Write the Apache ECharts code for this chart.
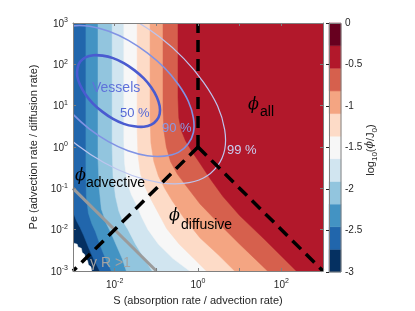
<!DOCTYPE html>
<html><head><meta charset="utf-8">
<script src="https://cdn.jsdelivr.net/npm/echarts/dist/echarts.min.js"></script>
<style>html,body{margin:0;padding:0;background:#fff}#c{width:415px;height:311px}</style>
</head><body><div id="c"></div>
<script>
// ---- data (log10 S, log10 Pe) ----
const xTicks = [-3, -2, -1, 0, 1, 2, 3];
const xLabelTicks = [-2, 0, 2];
const yTicks = [-3, -2, -1, 0, 1, 2, 3];
const cbTicks = [0, -0.5, -1, -1.5, -2, -2.5, -3];
const cbEdges = [-3, -2.727, -2.455, -2.182, -1.909, -1.636, -1.364, -1.091, -0.818, -0.545, -0.273, 0];
const cbColors = ['#053061', '#2166ac', '#4393c3', '#92c5de', '#d1e5f0', '#f7f7f7', '#fddbc7', '#f4a582', '#d6604d', '#b2182b', '#67001f'];

// contour boundaries of log10(phi/J0): region to the right/above has the next colour
const edge1 = [[-3, -1.57], [-2.92, -1.78], [-2.83, -1.95], [-2.74, -2.15], [-2.62, -2.45], [-2.5, -2.72], [-2.36, -3]];
const edge2 = [[-2.69, 3], [-2.69, -0.5], [-2.68, -1.2], [-2.63, -1.6], [-2.55, -1.85], [-2.46, -2.05], [-2.32, -2.45], [-2.2, -2.75], [-2.08, -3]];
const edge3 = [[-2.4, 3], [-2.4, -0.3], [-2.37, -1.0], [-2.32, -1.5], [-2.2, -1.85], [-2.1, -2.05], [-1.95, -2.4], [-1.82, -2.7], [-1.72, -3]];
const edge4 = [[-2.06, 3], [-2.06, 0.0], [-2.04, -0.7], [-1.98, -1.2], [-1.9, -1.55], [-1.8, -1.8], [-1.68, -2.0], [-1.5, -2.35], [-1.3, -2.68], [-1.1, -3]];
const edge5 = [[-1.78, 3], [-1.78, 0.2], [-1.76, -0.4], [-1.7, -0.85], [-1.6, -1.15], [-1.5, -1.35], [-1.35, -1.7], [-1.2, -2.0], [-0.95, -2.35], [-0.6, -2.7], [-0.2, -3]];
const edge6 = [[-1.46, 3], [-1.46, 0.4], [-1.44, -0.2], [-1.38, -0.65], [-1.28, -0.95], [-1.12, -1.28], [-0.95, -1.6], [-0.75, -1.98], [-0.45, -2.35], [-0.1, -2.7], [0.2, -3]];
const edge7 = [[-1.15, 3], [-1.15, 0.7], [-1.13, 0.1], [-1.06, -0.35], [-0.95, -0.7], [-0.8, -1.0], [-0.62, -1.3], [-0.35, -1.7], [0.05, -2.2], [0.5, -2.62], [0.88, -3]];
const edge8 = [[-0.84, 3], [-0.84, 0.9], [-0.82, 0.4], [-0.76, 0.0], [-0.66, -0.35], [-0.5, -0.65], [-0.3, -0.92], [0.05, -1.38], [0.5, -1.85], [1.0, -2.35], [1.67, -3]];
const edge9 = [[-0.48, 3], [-0.48, 1.2], [-0.46, 0.7], [-0.4, 0.4], [-0.3, 0.15], [-0.15, -0.1], [0.05, -0.4], [0.3, -0.78], [0.6, -1.2], [1.0, -1.66], [1.6, -2.24], [2.36, -3]];
const blankPatch = [[-3, -2.32], [-2.9, -2.35], [-2.88, -2.42], [-2.8, -2.45], [-2.78, -2.55], [-2.72, -2.6], [-2.7, -2.7], [-2.65, -2.75], [-2.63, -2.85], [-2.57, -2.9], [-2.55, -3]];

// vessel distribution contours
const vessel50 = [[-0.99, 0.65], [-1.12, 0.54], [-1.30, 0.49], [-1.53, 0.50], [-1.78, 0.56], [-2.04, 0.68], [-2.29, 0.85], [-2.52, 1.05], [-2.70, 1.27], [-2.83, 1.50], [-2.90, 1.72], [-2.89, 1.91], [-2.83, 2.06], [-2.70, 2.17], [-2.51, 2.22], [-2.29, 2.21], [-2.04, 2.15], [-1.78, 2.03], [-1.53, 1.86], [-1.30, 1.66], [-1.12, 1.44], [-0.99, 1.21], [-0.92, 0.99], [-0.92, 0.80]];
const vessel90 = [[-0.24, 0.07], [-0.47, -0.13], [-0.81, -0.22], [-1.22, -0.21], [-1.68, -0.09], [-2.15, 0.13], [-2.61, 0.44], [-3.01, 0.80], [-3.35, 1.20], [-3.58, 1.62], [-3.70, 2.01], [-3.70, 2.36], [-3.58, 2.64], [-3.34, 2.84], [-3.01, 2.93], [-2.60, 2.92], [-2.14, 2.80], [-1.67, 2.58], [-1.21, 2.27], [-0.80, 1.91], [-0.47, 1.51], [-0.23, 1.10], [-0.11, 0.70], [-0.11, 0.35]];
const vessel99 = [[0.46, -0.47], [0.13, -0.75], [-0.35, -0.88], [-0.93, -0.86], [-1.58, -0.69], [-2.25, -0.38], [-2.90, 0.05], [-3.48, 0.57], [-3.95, 1.14], [-4.28, 1.72], [-4.45, 2.29], [-4.45, 2.78], [-4.28, 3.18], [-3.94, 3.46], [-3.47, 3.59], [-2.88, 3.57], [-2.24, 3.40], [-1.57, 3.09], [-0.92, 2.66], [-0.34, 2.14], [0.13, 1.57], [0.47, 0.99], [0.64, 0.42], [0.64, -0.07]];

// regime lines
const regimeUp = [[0, 0], [0, 3]];
const regimeDiff = [[0, 0], [3, -3]];
const regimeAdv = [[0, 0], [-3, -3]];
const gammaLine = [[-3, -1], [-1, -3]];

// ---- chart ----
const FONT = "'Liberation Sans', Arial, Helvetica, sans-serif";
const TXT = '#262626';
const BOX = '#808080';
const supRich = {
  b: { fontSize: 10, fontFamily: FONT, color: TXT, verticalAlign: 'bottom' },
  s: { fontSize: 7, fontFamily: FONT, color: TXT, verticalAlign: 'top', padding: [0, 0, 5, 0] }
};
const fillEdges = [null, edge1, edge2, edge3, edge4, edge5, edge6, edge7, edge8, edge9];
function fillPoly(i) {
  if (i === 0) return [[-3, 3], [3, 3], [3, -3], [-3, -3]];
  const e = fillEdges[i];
  const pts = e.slice();
  pts.push([3, -3], [3, 3]);
  if (e[0][1] < 3) pts.push([-3, 3]);
  return pts;
}
const vessels = [
  { pts: vessel99, color: '#bdc5ef', width: 1.2 },
  { pts: vessel90, color: '#8193e4', width: 1.6 },
  { pts: vessel50, color: '#4a5bd0', width: 2.6 }
];
function dashed(data, w, color, type) {
  return { type: 'line', xAxisIndex: 0, yAxisIndex: 0, data: data, symbol: 'none', silent: true, z: 6,
    lineStyle: { color: color, width: w, type: type, cap: 'butt' } };
}
const chart = echarts.init(document.getElementById('c'), null, { renderer: 'canvas' });
const mainAxisCommon = { type: 'value', min: -3, max: 3, interval: 1, z: 10,
  splitLine: { show: false },
  axisLine: { show: true, onZero: false, lineStyle: { color: BOX, width: 1 } },
  axisTick: { show: true, inside: true, length: 3, lineStyle: { color: BOX, width: 1 } } };
const option = {
  animation: false,
  backgroundColor: '#ffffff',
  grid: [
    { left: 73, top: 23, width: 250, height: 248, outerBoundsMode: 'none', containLabel: false },
    { left: 329, top: 23, width: 12, height: 249, outerBoundsMode: 'none', containLabel: false }
  ],
  xAxis: [
    Object.assign({}, mainAxisCommon, { gridIndex: 0, position: 'bottom',
      axisLabel: { margin: 7, formatter: v => xLabelTicks.includes(v) ? '{b|10}{s|' + v + '}' : '', rich: supRich },
      name: 'S (absorption rate / advection rate)', nameLocation: 'middle', nameGap: 24,
      nameTextStyle: { fontSize: 11, color: TXT, fontFamily: FONT } }),
    Object.assign({}, mainAxisCommon, { gridIndex: 0, position: 'top', axisLabel: { show: false } }),
    { gridIndex: 1, type: 'value', min: 0, max: 1, show: false }
  ],
  yAxis: [
    Object.assign({}, mainAxisCommon, { gridIndex: 0, position: 'left',
      axisLabel: { margin: 5, formatter: v => yTicks.includes(v) ? '{b|10}{s|' + v + '}' : '', rich: supRich },
      name: 'Pe (advection rate / diffusion rate)', nameLocation: 'middle', nameGap: 25,
      nameTextStyle: { fontSize: 11, color: TXT, fontFamily: FONT } }),
    Object.assign({}, mainAxisCommon, { gridIndex: 0, position: 'right', axisLabel: { show: false } }),
    { gridIndex: 1, type: 'value', min: -3, max: 0, interval: 0.5, position: 'right', z: 10,
      splitLine: { show: false },
      axisLine: { show: true, lineStyle: { color: BOX, width: 1 } },
      axisTick: { show: true, inside: true, length: 3, lineStyle: { color: TXT, width: 1 } },
      axisLabel: { margin: 4, fontSize: 10, color: TXT, fontFamily: FONT,
        formatter: v => cbTicks.includes(v) ? String(v) : '' } }
  ],
  series: [
    { type: 'custom', name: 'field', xAxisIndex: 0, yAxisIndex: 0, clip: true, silent: true, z: 1,
      data: fillEdges.concat([blankPatch]).map((e, i) => [i, 0]),
      renderItem: function (params, api) {
        const i = params.dataIndex;
        let pts, fill;
        if (i < fillEdges.length) { pts = fillPoly(i); fill = cbColors[i]; }
        else { pts = blankPatch.concat([[-3, -3]]); fill = '#ffffff'; }
        return { type: 'polygon', shape: { points: pts.map(p => api.coord(p)) },
          style: { fill: fill, stroke: fill, lineWidth: 0.5 } };
      } },
    { type: 'custom', name: 'vessels', xAxisIndex: 0, yAxisIndex: 0, clip: true, silent: true, z: 4,
      data: vessels.map((v, i) => [i, 0]),
      renderItem: function (params, api) {
        const v = vessels[params.dataIndex];
        return { type: 'polygon', shape: { points: v.pts.map(p => api.coord(p)), smooth: 0.33 },
          style: { fill: 'none', stroke: v.color, lineWidth: v.width } };
      } },
    dashed(gammaLine, 3, '#9b9b9b', 'solid'),
    dashed(regimeUp, 3.5, '#000000', [12, 7]),
    dashed(regimeDiff, 3.5, '#000000', [12, 7]),
    dashed(regimeAdv, 3.5, '#000000', [12, 7]),
    { type: 'custom', name: 'colorbar', xAxisIndex: 2, yAxisIndex: 2, silent: true, z: 1,
      data: cbColors.map((c, i) => [i, 0]),
      renderItem: function (params, api) {
        const i = params.dataIndex;
        const a = api.coord([0, cbEdges[i + 1]]);
        const b = api.coord([1, cbEdges[i]]);
        return { type: 'rect', shape: { x: a[0], y: a[1], width: b[0] - a[0], height: b[1] - a[1] },
          style: { fill: cbColors[i], stroke: cbColors[i], lineWidth: 0.5 } };
      } }
  ],
  graphic: [
    { type: 'rect', z: 20, silent: true, shape: { x: 329.5, y: 23.5, width: 11.5, height: 248.5 }, style: { fill: 'none', stroke: BOX, lineWidth: 1 } },
    { type: 'text', z: 20, silent: true, style: { x: 248, y: 105, text: 'ϕ', font: 'italic 16px "DejaVu Serif", serif', fill: '#000', verticalAlign: 'middle' } },
    { type: 'text', z: 20, silent: true, style: { x: 260, y: 112, text: 'all', font: '14px ' + FONT, fill: '#000', verticalAlign: 'middle' } },
    { type: 'text', z: 20, silent: true, style: { x: 75, y: 176, text: 'ϕ', font: 'italic 16px "DejaVu Serif", serif', fill: '#000', verticalAlign: 'middle' } },
    { type: 'text', z: 20, silent: true, style: { x: 86, y: 183, text: 'advective', font: '14px ' + FONT, fill: '#000', verticalAlign: 'middle' } },
    { type: 'text', z: 20, silent: true, style: { x: 169, y: 216, text: 'ϕ', font: 'italic 16px "DejaVu Serif", serif', fill: '#000', verticalAlign: 'middle' } },
    { type: 'text', z: 20, silent: true, style: { x: 181, y: 225, text: 'diffusive', font: '14px ' + FONT, fill: '#000', verticalAlign: 'middle' } },
    { type: 'text', z: 20, silent: true, style: { x: 92, y: 88, text: 'Vessels', font: '14px ' + FONT, fill: '#5f72da', verticalAlign: 'middle' } },
    { type: 'text', z: 20, silent: true, style: { x: 120, y: 113.5, text: '50 %', font: '13px ' + FONT, fill: '#5669d6', verticalAlign: 'middle' } },
    { type: 'text', z: 20, silent: true, style: { x: 162, y: 128.5, text: '90 %', font: '13px ' + FONT, fill: '#8a9ae6', verticalAlign: 'middle' } },
    { type: 'text', z: 20, silent: true, style: { x: 227, y: 150.5, text: '99 %', font: '13px ' + FONT, fill: '#c9cff2', verticalAlign: 'middle' } },
    { type: 'text', z: 20, silent: true, style: { x: 90, y: 263, text: 'γ R >1', font: '14px ' + FONT, fill: '#a3a3a3', verticalAlign: 'middle' } },
    { type: 'text', z: 20, silent: true, x: 372, y: 150, rotation: Math.PI / 2,
      style: { text: '{a|log}{s|10}{a|(}{p|ϕ}{a|/J}{s|0}{a|)}', align: 'center', verticalAlign: 'middle',
        rich: {
          a: { fontSize: 11, fontFamily: FONT, fill: TXT, verticalAlign: 'top' },
          p: { fontSize: 11, fontFamily: '"DejaVu Serif", serif', fontStyle: 'italic', fill: TXT, verticalAlign: 'top' },
          s: { fontSize: 8, fontFamily: FONT, fill: TXT, verticalAlign: 'top', padding: [6, 0, 0, 0] }
        } } }
  ]
};
chart.setOption(option);
</script>
</body></html>
